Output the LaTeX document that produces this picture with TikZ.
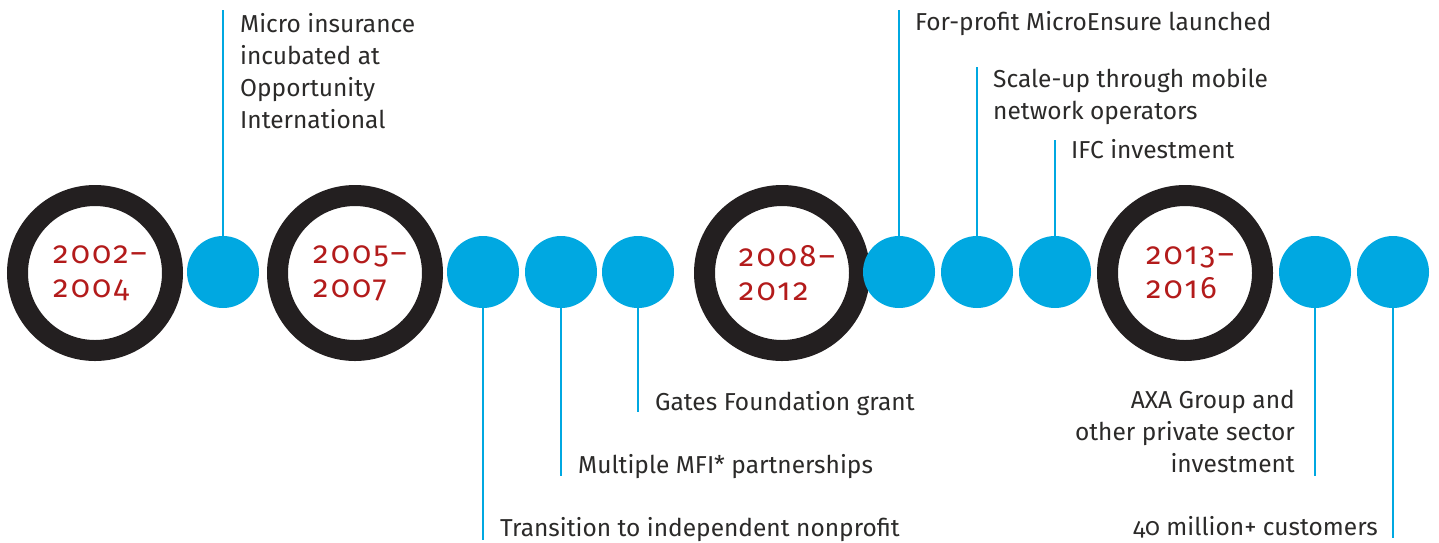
\documentclass[tikz,border=0pt]{standalone}
\usepackage{fontspec}
\setmainfont{Fira Sans}[Numbers=OldStyle]
\newfontfamily\yearfont{Fira Sans}[Numbers=OldStyle, LetterSpace=8]
\usetikzlibrary{positioning}
\definecolor{ringgray}{HTML}{231F20}
\definecolor{dotblue}{HTML}{00A8E1}
\definecolor{yearred}{HTML}{B31B1B}
\definecolor{txtgray}{HTML}{2B2A29}
\begin{document}
\begin{tikzpicture}[
                    x=1pt, y=-1pt,
                    ring/.style={circle, draw=ringgray, line width=21pt, minimum size=155pt, inner sep=0pt},
                    year/.style={text=yearred, font=\yearfont\fontsize{31}{34}\selectfont, align=left, xshift=5pt},
                    dot/.style={circle, fill=dotblue, minimum size=72pt, inner sep=0pt},
                    stem/.style={draw=dotblue, line width=2.5pt},
                    lbl/.style={text=txtgray, font=\fontsize{24.5}{32}\selectfont, inner sep=0pt}
                    ]
    \useasboundingbox (0,0) rectangle (1439,542);

    % year rings
    \node [ring] (y1) at (95,273) {};
    \node [ring] (y2) at (355,273) {};
    \node [ring] (y3) at (782,273) {};
    \node [ring] (y4) at (1185,273) {};
    \node [year] (yr1) at (y1) {2002–\\2004};
    \node [year] (yr2) at (y2) {2005–\\2007};
    \node [year] (yr3) at (y3) {2008–\\2012};
    \node [year] (yr4) at (y4) {2013–\\2016};

    % event dots
    \node [dot] (d1) at (223,272) {};
    \node [dot] (d2) at (483,272) {};
    \node [dot] (d3) at (561,272) {};
    \node [dot] (d4) at (638,272) {};
    \node [dot] (d5) at (899,272) {};
    \node [dot] (d6) at (977,272) {};
    \node [dot] (d7) at (1055,272) {};
    \node [dot] (d8) at (1315,272) {};
    \node [dot] (d9) at (1393,272) {};

    % labels
    \node [lbl, anchor=north west, align=left] (t1) at (240,13) {Micro insurance\\incubated at\\Opportunity\\International};
    \node [lbl, anchor=base west] (t2) at (500,536) {Transition to independent nonprofit};
    \node [lbl, anchor=base west] (t3) at (578,473) {Multiple MFI* partnerships};
    \node [lbl, anchor=base west] (t4) at (655,410) {Gates Foundation grant};
    \node [lbl, anchor=base west] (t5) at (915,30) {For-profit MicroEnsure launched};
    \node [lbl, anchor=north west, align=left] (t6) at (993,68) {Scale-up through mobile\\network operators};
    \node [lbl, anchor=base west] (t7) at (1071,158) {IFC investment};
    \node [lbl, anchor=south east, align=right] (t8) at (1295,473) {AXA Group and\\other private sector\\investment};
    \node [lbl, anchor=base east] (t9) at (1378,535) {40 million+ customers};

    % stem ends
    \coordinate (e1) at (223,10);
    \coordinate (e2) at (483,540);
    \coordinate (e3) at (561,476);
    \coordinate (e4) at (638,412);
    \coordinate (e5) at (899,10);
    \coordinate (e6) at (977,67);
    \coordinate (e7) at (1055,140);
    \coordinate (e8) at (1315,476);
    \coordinate (e9) at (1393,538);

    % stems
    \foreach \i in {1,...,9}
        \draw [stem] (d\i) -- (e\i);
\end{tikzpicture}
\end{document}
